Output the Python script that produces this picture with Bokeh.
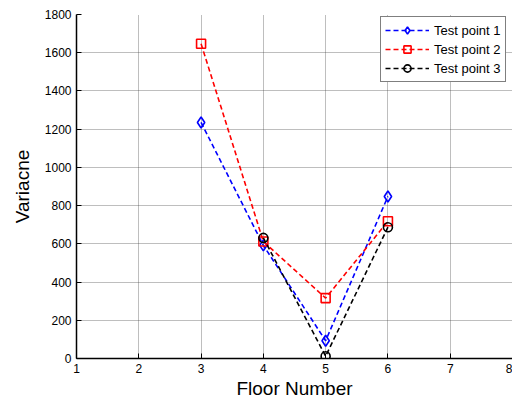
from bokeh.plotting import figure
from bokeh.models import Range1d, FixedTicker, Legend, LegendItem
from bokeh.embed import file_html
from bokeh.resources import INLINE

floors = [3, 4, 5, 6]
tp1 = [1235, 592, 93, 848]
tp2 = [1647, 612, 316, 718]
tp3_floors = [4, 5, 6]
tp3 = [631, 12, 687]
series_names = ["Test point 1", "Test point 2", "Test point 3"]
x_ticks = [1, 2, 3, 4, 5, 6, 7, 8]
y_ticks = [0, 200, 400, 600, 800, 1000, 1200, 1400, 1600, 1800]

FONT = "Liberation Sans"

p = figure(width=512, height=401, output_backend="svg", toolbar_location=None,
           x_range=Range1d(1, 8), y_range=Range1d(0, 1800),
           min_border_left=76, min_border_right=0, min_border_top=14, min_border_bottom=43)
p.background_fill_color = "white"
p.border_fill_color = "white"
p.outline_line_color = None

for ax in (p.xaxis[0], p.yaxis[0]):
    ax.major_tick_in = 5
    ax.major_tick_out = 0
    ax.minor_tick_in = 0
    ax.minor_tick_out = 0
    ax.axis_line_color = "black"
    ax.axis_line_width = 1.5
    ax.major_tick_line_color = "black"
    ax.major_label_text_font = FONT
    ax.major_label_text_font_size = "12px"
    ax.major_label_text_color = "black"
    ax.axis_label_text_font = FONT
    ax.axis_label_text_font_size = "19px"
    ax.axis_label_text_font_style = "normal"
    ax.axis_label_text_color = "black"

p.xaxis[0].ticker = FixedTicker(ticks=x_ticks)
p.yaxis[0].ticker = FixedTicker(ticks=y_ticks)
p.xaxis[0].axis_label = "Floor Number"
p.yaxis[0].axis_label = "Variacne"
p.xaxis[0].major_label_standoff = 5
p.yaxis[0].major_label_standoff = 5
p.xaxis[0].axis_label_standoff = 2
p.yaxis[0].axis_label_standoff = 9

for g in (p.xgrid[0], p.ygrid[0]):
    g.grid_line_color = "#444444"
    g.grid_line_alpha = 0.7
    g.grid_line_dash = "1 1"
    g.grid_line_width = 1
p.xgrid[0].ticker = FixedTicker(ticks=x_ticks)
p.ygrid[0].ticker = FixedTicker(ticks=y_ticks)

dash = "5 3"
r1l = p.line(floors, tp1, line_color="blue", line_width=1.6, line_dash=dash)
r1m = p.scatter(floors, tp1, marker="diamond", size=11, line_color="blue", line_width=1.6, fill_alpha=0)
r2l = p.line(floors, tp2, line_color="red", line_width=1.6, line_dash=dash)
r2m = p.scatter(floors, tp2, marker="square", size=9, line_color="red", line_width=1.6, fill_alpha=0)
r3l = p.line(tp3_floors, tp3, line_color="black", line_width=1.6, line_dash=dash)
r3m = p.scatter(tp3_floors, tp3, marker="circle", size=9, line_color="black", line_width=1.6, fill_alpha=0)

legend = Legend(items=[
    LegendItem(label=series_names[0], renderers=[r1l, r1m]),
    LegendItem(label=series_names[1], renderers=[r2l, r2m]),
    LegendItem(label=series_names[2], renderers=[r3l, r3m]),
], location=(304, 276))
legend.label_text_font = FONT
legend.label_text_font_size = "13px"
legend.label_text_color = "black"
legend.border_line_color = "black"
legend.border_line_width = 1.5
legend.glyph_width = 44
legend.glyph_height = 18
legend.label_height = 18
legend.spacing = 1
legend.padding = 4
legend.margin = 0
legend.label_standoff = 5
legend.background_fill_alpha = 1
p.add_layout(legend, "center")

open("out.html", "w").write(file_html(p, INLINE))
